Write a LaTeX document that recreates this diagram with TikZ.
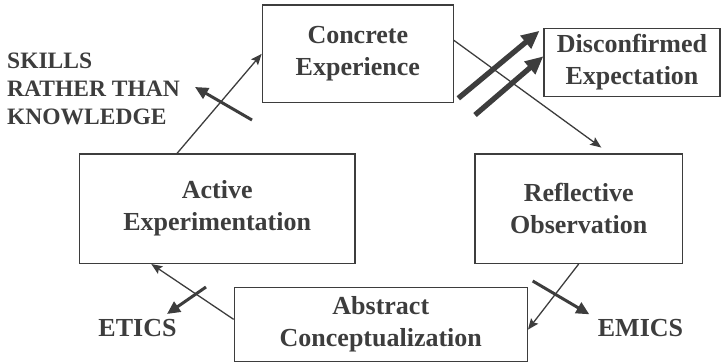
\documentclass[tikz,border=0pt]{standalone}
\usepackage{fontspec}
\setmainfont{Liberation Serif}
\usepackage{tikz}
\usetikzlibrary{arrows.meta}

\definecolor{ink}{gray}{0.24}
\newcommand\stagefont{\fontsize{26}{32}\selectfont\bfseries}
\newcommand\tagfont{\fontsize{23.5}{27.8}\selectfont\bfseries}

\tikzset{
	stage/.style={draw=ink, line width=1.3pt, text=ink, align=center, font=\stagefont, inner sep=0pt},
	tag/.style={text=ink, font=\tagfont, inner sep=0pt},
	flow/.style={draw=ink, line width=1.3pt, -{Stealth[length=11pt,width=9pt,inset=2pt]}},
	pull/.style={draw=ink, line width=3pt, -{Triangle[length=13pt,width=12pt]}},
	heavy/.style={draw=ink, line width=5.3pt, -{Triangle[length=18pt,width=16pt]}}
}

\begin{document}
\begin{tikzpicture}[x=1pt, y=-1pt]
	\useasboundingbox (0,0) rectangle (721,364);
	
	\node[stage, minimum width=191pt, minimum height=97.7pt] (ce) at (357.8,53.9) {Concrete\\Experience};
	\node[stage, minimum width=176pt, minimum height=68.5pt] (de) at (632,62.5) {Disconfirmed\\Expectation};
	\node[stage, minimum width=275.7pt, minimum height=109.3pt] (ae) at (217.2,208.7) {Active\\Experimentation};
	\node[stage, minimum width=207.3pt, minimum height=109.3pt] (ro) at (578.7,208.7) {Reflective\\Observation};
	\node[stage, minimum width=293pt, minimum height=74pt] (ac) at (380.8,324.5) {Abstract\\Conceptualization};
	
	\node[tag, anchor=north west, align=left] (skills) at (7,52.7) {SKILLS\\RATHER THAN\\KNOWLEDGE};
	\node[tag, font=\stagefont, anchor=base] (etics) at (137.5,336) {ETICS};
	\node[tag, font=\stagefont, anchor=base] (emics) at (640.5,336.5) {EMICS};
	
	% the learning cycle
	\draw[flow] (ae.126.5) -- (ce.west);
	\draw[flow, shorten >=10pt] (ce.8.3) -- (ro.61);
	\draw[flow] (ro.south) -- (ac.358.5);
	\draw[flow] (ac.178.6) -- (ae.220);
	
	\coordinate (skTail) at (252,120);
	\coordinate (skTip) at (195,87);
	\coordinate (etTail) at (206,287);
	\coordinate (etTip) at (167,314);
	\coordinate (emTail) at (532.7,281);
	\coordinate (emTip) at (589.3,314.3);
	\coordinate (deTailA) at (458.3,98.3);
	\coordinate (deTailB) at (475,115);
	
	\draw[pull] (skTail) -- (skTip);
	\draw[pull] (etTail) -- (etTip);
	\draw[pull] (emTail) -- (emTip);
	\draw[heavy, shorten >=5pt] (deTailA) -- (de.north west);
	\draw[heavy] (deTailB) -- (de.176.2);
\end{tikzpicture}
\end{document}
